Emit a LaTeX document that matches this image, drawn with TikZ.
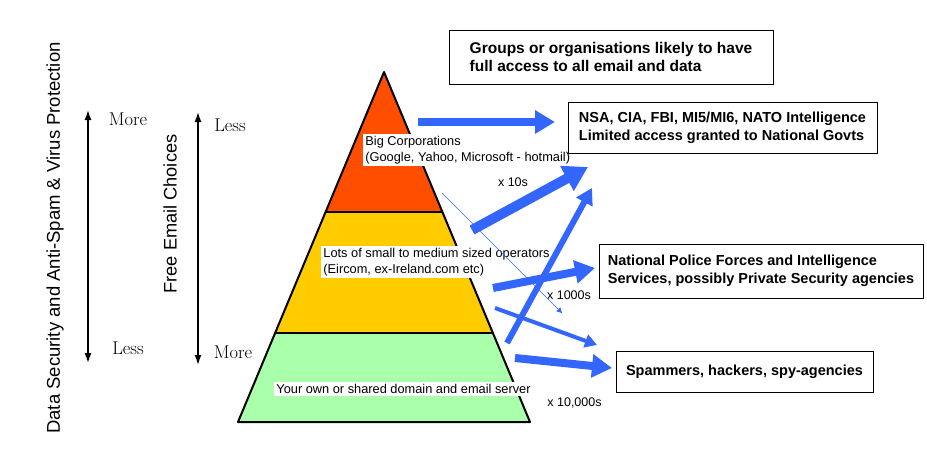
\documentclass[tikz,border=0pt]{standalone}
\usepackage{fontspec}
\setsansfont{Liberation Sans}
\usepackage{tikz}
\usetikzlibrary{arrows,arrows.meta,calc}

\definecolor{tiertop}{RGB}{255,78,0}
\definecolor{tiermid}{RGB}{255,204,0}
\definecolor{tierlow}{RGB}{170,255,170}
\definecolor{flowblue}{RGB}{51,102,255}

\tikzset{
  grouplabel/.style={draw, thin, fill=white, align=left,
    font=\sffamily\bfseries\fontsize{14.5}{18}\selectfont},
  tierlabel/.style={fill=white, align=left, inner sep=2pt,
    font=\sffamily\fontsize{12.8}{16.5}\selectfont},
  countlabel/.style={font=\sffamily\fontsize{12.5}{15}\selectfont},
  scalelabel/.style={font=\fontsize{18.5}{20}\selectfont},
  axistitle/.style={rotate=90, font=\sffamily\fontsize{18.5}{22}\selectfont},
  flow/.style={draw=flowblue, line width=#1,
    -{Triangle[length=4pt 2, width=4pt 2.3]}}
}

\begin{document}
\begin{tikzpicture}[x=1pt,y=-1pt,>={Latex[length=10pt,width=7pt]},thick]
      \useasboundingbox (0,0) rectangle (927,455);

        % Pyramid corners
        \coordinate (apex) at (384,72);
        \coordinate (baseL) at (238,422);
        \coordinate (baseR) at (530,422);
        \coordinate (t1L) at ($(apex)!0.4!(baseL)$);
        \coordinate (t1R) at ($(apex)!0.4!(baseR)$);
        \coordinate (t2L) at ($(apex)!0.7457!(baseL)$);
        \coordinate (t2R) at ($(apex)!0.7457!(baseR)$);

        % Tiers
        \fill[tiertop] (apex) -- (t1R) -- (t1L) -- cycle;
        \fill[tiermid] (t1L) -- (t1R) -- (t2R) -- (t2L) -- cycle;
        \fill[tierlow] (t2L) -- (t2R) -- (baseR) -- (baseL) -- cycle;
        \draw[line width=2pt, line join=round] (apex) -- (baseR) -- (baseL) -- cycle;
        \draw[line width=2pt] (t1L) -- (t1R);
        \draw[line width=2pt] (t2L) -- (t2R);

        \node[tierlabel, anchor=west] (big) at (363,150)
          {Big Corporations\\(Google, Yahoo, Microsoft - hotmail)};
        \node[tierlabel, anchor=west] (small) at (321,262)
          {Lots of small to medium sized operators\\(Eircom, ex-Ireland.com etc)};
        \node[tierlabel, anchor=west] (own) at (274,389)
          {Your own or shared domain and email server};

        % Left scales
        \node[axistitle] (sectitle) at (55,238) {Data Security and Anti-Spam \& Virus Protection};
        \node[axistitle, font=\sffamily\fontsize{18.2}{22}\selectfont] (choicetitle) at (170,214) {Free Email Choices};

        \coordinate (secTop) at (88,110);
        \coordinate (secBot) at (88,363);
        \coordinate (choiceTop) at (198,112);
        \coordinate (choiceBot) at (198,365);
        \draw [<->, line width=1.4pt] (secBot) -- (secTop);
        \draw [<->, line width=1.4pt] (choiceBot) -- (choiceTop);

        \node[scalelabel] (secmore) at (128,119) {More};
        \node[scalelabel] (secless) at (128,348) {Less};
        \node[scalelabel] (choiceless) at (230,125) {Less};
        \node[scalelabel] (choicemore) at (233,352) {More};

        % Groups
        \node[grouplabel, minimum width=324pt, minimum height=54pt,
          font=\sffamily\bfseries\fontsize{15.5}{18}\selectfont] (groups) at (611,57)
          {Groups or organisations likely to have\\full access to all email and data};
        \node[grouplabel, minimum width=309pt, minimum height=51pt] (nsa) at (722.5,127.5)
          {NSA, CIA, FBI, MI5/MI6, NATO Intelligence\\Limited access granted to National Govts};
        \node[grouplabel, minimum width=324pt, minimum height=54pt] (police) at (761,271)
          {National Police Forces and Intelligence\\Services, possibly Private Security agencies};
        \node[grouplabel, minimum width=257pt, minimum height=41pt] (spam) at (744.5,371.5)
          {Spammers, hackers, spy-agencies};

        \node[countlabel] (tens) at (513,182) {x 10s};
        \node[countlabel] (thousands) at (569,295) {x 1000s};
        \node[countlabel] (tenthousands) at (574.5,403) {x 10,000s};

        % Flows
        \coordinate (f1a) at (418,122);  \coordinate (f1b) at (555,122);
        \coordinate (f2a) at (472,230);  \coordinate (f2b) at (588,167);
        \coordinate (f3a) at (507,343);  \coordinate (f3b) at (592,188);
        \coordinate (f4a) at (442,193);  \coordinate (f4b) at (562,313);
        \coordinate (f5a) at (493,288);  \coordinate (f5b) at (595,268);
        \coordinate (f6a) at (495,308);  \coordinate (f6b) at (597,345);
        \coordinate (f7a) at (515,358);  \coordinate (f7b) at (612,368);

        \draw [flow=8pt] (f1a) -- (f1b);
        \draw [flow=10pt] (f2a) -- (f2b);
        \draw [flow=6pt] (f3a) -- (f3b);
        \draw [flow=0.6pt] (f4a) -- (f4b);
        \draw [flow=8pt] (f5a) -- (f5b);
        \draw [flow=4pt] (f6a) -- (f6b);
        \draw [flow=8pt] (f7a) -- (f7b);

    \end{tikzpicture}
\end{document}
